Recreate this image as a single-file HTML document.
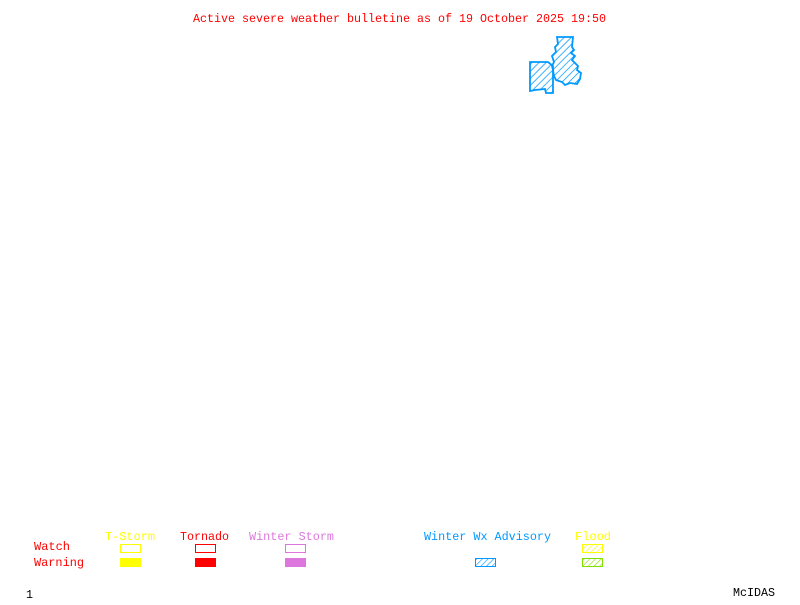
<!DOCTYPE html>
<html><head><meta charset="utf-8"><style>
body{margin:0;background:#fff;width:800px;height:600px;overflow:hidden}
svg text{font-family:"Liberation Mono","DejaVu Sans Mono",monospace;font-size:11.7px}
</style></head><body>
<svg width="800" height="600" xmlns="http://www.w3.org/2000/svg">
<defs>
<pattern id="hb" width="5" height="5" patternUnits="userSpaceOnUse" patternTransform="rotate(45)"><line x1="0" y1="0" x2="0" y2="5" stroke="#0099ff" stroke-width="1.5"/></pattern>
<pattern id="hy" width="4" height="4" patternUnits="userSpaceOnUse" patternTransform="rotate(45)"><line x1="0" y1="0" x2="0" y2="4" stroke="#ffff00" stroke-width="1.2"/></pattern>
<pattern id="hg" width="4" height="4" patternUnits="userSpaceOnUse" patternTransform="rotate(45)"><line x1="0" y1="0" x2="0" y2="4" stroke="#80e000" stroke-width="1.2"/></pattern>
<pattern id="hb2" width="4" height="4" patternUnits="userSpaceOnUse" patternTransform="rotate(45)"><line x1="0" y1="0" x2="0" y2="4" stroke="#0099ff" stroke-width="1.2"/></pattern>
</defs>
<text x="193" y="22" fill="#ff0000" textLength="413" lengthAdjust="spacingAndGlyphs">Active severe weather bulletine as of 19 October 2025 19:50</text>
<g fill="url(#hb)" stroke="#0099ff" stroke-width="1.8">
<path d="M557,37 L573,37 L572,47 L574,50 L571,53 L575,56 L572,60 L578,66 L577,70 L581,73 L580,79 L577,84 L570,83 L565,85 L562,82 L556,80 L554,76 L553,70 L552,66 L554,62 L552,56 L556,52 L555,47 L558,44 Z"/>
<path d="M530,62 L548,62 L553,66 L553,93 L546,93 L545,89 L535,90 L530,91 Z"/>
</g>
<text x="105" y="540" fill="#ffff00" textLength="50" lengthAdjust="spacingAndGlyphs">T-Storm</text>
<text x="180" y="540" fill="#ff0000" textLength="49" lengthAdjust="spacingAndGlyphs">Tornado</text>
<text x="249" y="540" fill="#dd77dd" textLength="85" lengthAdjust="spacingAndGlyphs">Winter Storm</text>
<text x="424" y="540" fill="#0099ff" textLength="127" lengthAdjust="spacingAndGlyphs">Winter Wx Advisory</text>
<text x="575" y="540" fill="#ffff00" textLength="36" lengthAdjust="spacingAndGlyphs">Flood</text>
<text x="34" y="550" fill="#ff0000" textLength="36" lengthAdjust="spacingAndGlyphs">Watch</text>
<text x="34" y="566" fill="#ff0000" textLength="50" lengthAdjust="spacingAndGlyphs">Warning</text>
<rect x="120.5" y="544.5" width="20" height="8" fill="none" stroke="#ffff00"/>
<rect x="120" y="558" width="21" height="9" fill="#ffff00"/>
<rect x="195.5" y="544.5" width="20" height="8" fill="none" stroke="#ff0000"/>
<rect x="195" y="558" width="21" height="9" fill="#ff0000"/>
<rect x="285.5" y="544.5" width="20" height="8" fill="none" stroke="#dd77dd"/>
<rect x="285" y="558" width="21" height="9" fill="#dd77dd"/>
<rect x="475.5" y="558.5" width="20" height="8" fill="url(#hb2)" stroke="#0099ff"/>
<rect x="582.5" y="544.5" width="20" height="8" fill="url(#hy)" stroke="#ffff00"/>
<rect x="582.5" y="558.5" width="20" height="8" fill="url(#hg)" stroke="#80e000"/>
<text x="26" y="598" fill="#000">1</text>
<text x="733" y="596" fill="#000" textLength="42" lengthAdjust="spacingAndGlyphs">McIDAS</text>
</svg>
</body></html>
